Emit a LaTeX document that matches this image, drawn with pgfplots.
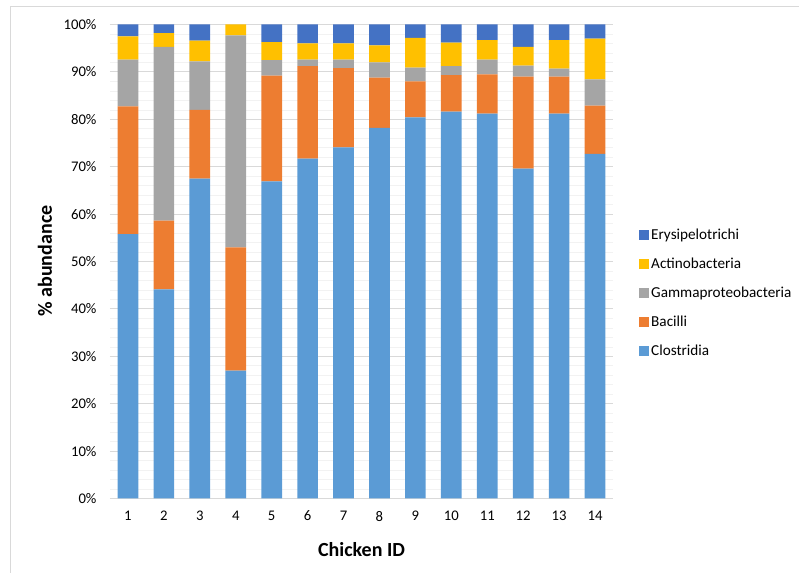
\documentclass[border=0pt]{standalone}
\usepackage{pgfplots}
\pgfplotsset{compat=1.18}
\usepackage{pgfplotstable}
\usepackage{fontspec}
\setmainfont{Carlito}

\definecolor{clos}{HTML}{5B9BD5}
\definecolor{bac}{HTML}{ED7D31}
\definecolor{gam}{HTML}{A5A5A5}
\definecolor{act}{HTML}{FFC000}
\definecolor{ery}{HTML}{4472C4}
\definecolor{gridmaj}{HTML}{D9D9D9}
\definecolor{gridmin}{HTML}{F2F2F2}

% percent abundance per chicken
\pgfplotstableread{
id clos bac gam act ery
1 55.8 26.9 9.9 4.9 2.5
2 44.1 14.5 36.7 2.9 1.8
3 67.5 14.5 10.2 4.4 3.4
4 27.0 26.0 44.7 2.3 0.0
5 66.9 22.3 3.3 3.8 3.7
6 71.7 19.5 1.4 3.4 4.0
7 74.1 16.7 1.8 3.4 4.0
8 78.2 10.6 3.2 3.6 4.4
9 80.4 7.6 2.9 6.3 2.8
10 81.6 7.7 1.9 5.0 3.8
11 81.2 8.3 3.1 4.1 3.3
12 69.6 19.4 2.3 4.0 4.7
13 81.2 7.8 1.7 6.0 3.3
14 72.7 10.2 5.5 8.6 3.0
}\abund

\begin{document}
\begin{tikzpicture}
  \begin{axis}[
      name=ax,
      scale only axis,
      width=503bp, height=474bp,
      ybar stacked,
      bar width=20.7bp,
      xmin=0.5, xmax=14.5,
      ymin=0, ymax=100,
      xtick={1,...,14},
      ytick={0,10,...,100},
      yticklabels={0\%,10\%,20\%,30\%,40\%,50\%,60\%,70\%,80\%,90\%,100\%},
      minor y tick num=4,
      ymajorgrids, yminorgrids,
      major grid style={gridmaj, line width=0.8pt},
      minor grid style={gridmin, line width=0.6pt},
      axis line style={draw=none},
      major tick length=0pt, minor tick length=0pt,
      tick label style={font=\fontsize{14.7bp}{17bp}\selectfont},
      /pgf/number format/assume math mode=true,
      yticklabel style={xshift=-10bp},
      xticklabel style={yshift=-9bp},
      xlabel={Chicken ID},
      ylabel={\% abundance},
      label style={font=\fontsize{20bp}{24bp}\selectfont\bfseries},
      xlabel style={at={(axis description cs:0.5,-0.1213)}, anchor=base},
      ylabel style={at={(axis description cs:-0.1292,0.501)}, anchor=center, rotate=0},
      reverse legend,
      legend cell align=left,
      legend style={at={(axis description cs:1.0517,0.5740)}, anchor=north west,
        draw=none, fill=none, inner sep=0pt,
        font=\fontsize{15.2bp}{18bp}\selectfont, row sep=13bp,
        nodes={inner sep=2bp}},
      legend image code/.code={\fill[#1,draw=none] (0bp,-5bp) rectangle (10bp,5bp);},
      every axis plot/.append style={draw=none},
    ]
    \addplot[fill=clos] table[x=id, y=clos] {\abund};
    \addlegendentry{Clostridia}
    \addplot[fill=bac] table[x=id, y=bac] {\abund};
    \addlegendentry{Bacilli}
    \addplot[fill=gam] table[x=id, y=gam] {\abund};
    \addlegendentry{Gammaproteobacteria}
    \addplot[fill=act] table[x=id, y=act] {\abund};
    \addlegendentry{Actinobacteria}
    \addplot[fill=ery] table[x=id, y=ery] {\abund};
    \addlegendentry{Erysipelotrichi}
  \end{axis}
  % chart area border (top and left edges visible)
  \draw[gridmaj, line width=1pt]
    ([shift={(-99.5bp,-80bp)}]ax.south west) -- ([shift={(-99.5bp,491.8bp)}]ax.south west)
    -- ([shift={(700bp,491.8bp)}]ax.south west);
  \pgfresetboundingbox
  \path[use as bounding box] ([shift={(-110bp,-74.5bp)}]ax.south west)
    rectangle ([shift={(689bp,498.5bp)}]ax.south west);
\end{tikzpicture}
\end{document}
